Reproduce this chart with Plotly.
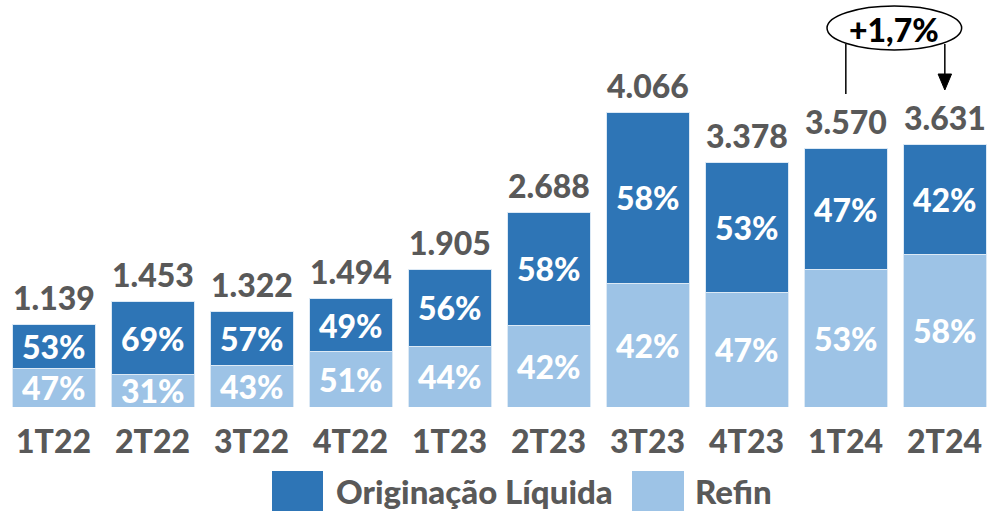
import plotly.graph_objects as go

categories = ["1T22", "2T22", "3T22", "4T22", "1T23", "2T23", "3T23", "4T23", "1T24", "2T24"]
totals = [1139, 1453, 1322, 1494, 1905, 2688, 4066, 3378, 3570, 3631]
total_labels = ["1.139", "1.453", "1.322", "1.494", "1.905", "2.688", "4.066", "3.378", "3.570", "3.631"]
pct_originacao = [53, 69, 57, 49, 56, 58, 58, 53, 47, 42]
pct_refin = [47, 31, 43, 51, 44, 42, 42, 47, 53, 58]
growth_label = "+1,7%"

DARK = "#2E75B6"
LIGHT = "#9DC3E6"
GRAY = "#595959"
FONT = "Lato"
WT = 900

W, H = 988, 511
ML, MR, MT, MB = 4, 0, 0, 104
PH = H - MT - MB
YMAX = 5620

refin_vals = [t * p / 100 for t, p in zip(totals, pct_refin)]
orig_vals = [t - r for t, r in zip(totals, refin_vals)]
xs = list(range(len(categories)))

fig = go.Figure()
fig.add_trace(go.Bar(x=xs, y=refin_vals, name="Refin", marker=dict(color=LIGHT, line=dict(color="#DCE9F5", width=1)),
                     width=0.84, hoverinfo="skip"))
fig.add_trace(go.Bar(x=xs, y=orig_vals, name="Originação Líquida", marker=dict(color=DARK, line=dict(color="#DCE9F5", width=1)),
                     width=0.84, hoverinfo="skip"))

def f(size, color):
    return dict(family=FONT, size=size, color=color, weight=WT)

ann = []
for i in xs:
    ann.append(dict(x=i, y=refin_vals[i] / 2, text=f"{pct_refin[i]}%", showarrow=False,
                    font=f(32, "white"), xref="x", yref="y", yanchor="middle"))
    ann.append(dict(x=i, y=refin_vals[i] + orig_vals[i] / 2, text=f"{pct_originacao[i]}%", showarrow=False,
                    font=f(32, "white"), xref="x", yref="y", yanchor="middle"))
    ann.append(dict(x=i, y=totals[i], text=total_labels[i], showarrow=False, yshift=27,
                    font=f(32, GRAY), xref="x", yref="y", yanchor="middle"))
    ann.append(dict(x=i, y=0, text=categories[i], showarrow=False, yshift=-33,
                    font=f(32, GRAY), xref="x", yref="y", yanchor="middle"))

def py(p):  # pixel y -> paper
    return (H - MB - p) / PH

def px(p):  # pixel x -> paper
    return (p - ML) / (W - ML - MR)

def dy(p):  # pixel y -> data y
    return (H - MB - p) / PH * YMAX

shapes = []
# growth ellipse and connectors
i1, i2 = 8, 9
shapes.append(dict(type="circle", xref="x", yref="y", x0=i1 - 0.19, x1=i2 + 0.17, y0=dy(50), y1=dy(6),
                   line=dict(color="black", width=1.5), fillcolor="white", layer="above"))
shapes.append(dict(type="line", xref="x", yref="y", x0=i1, x1=i1, y0=dy(44), y1=dy(94),
                   line=dict(color="black", width=1.5)))
shapes.append(dict(type="line", xref="x", yref="y", x0=i2, x1=i2, y0=dy(44), y1=dy(78),
                   line=dict(color="black", width=1.5)))
shapes.append(dict(type="path", xref="x", yref="y",
                   path=f"M {i2-0.068},{dy(74)} L {i2+0.068},{dy(74)} L {i2},{dy(90)} Z",
                   fillcolor="black", line=dict(color="black", width=1)))
ann.append(dict(x=(i1 + i2) / 2 - 0.01, y=dy(29), text=growth_label, showarrow=False,
                font=f(32, "black"), xref="x", yref="y", yanchor="middle"))

# legend
shapes.append(dict(type="rect", xref="paper", yref="paper", x0=px(272), x1=px(323), y0=py(511), y1=py(471),
                   fillcolor=DARK, line=dict(width=0)))
shapes.append(dict(type="rect", xref="paper", yref="paper", x0=px(632), x1=px(684), y0=py(511), y1=py(471),
                   fillcolor=LIGHT, line=dict(width=0)))
ann.append(dict(x=px(334), y=py(491), text="Originação Líquida", showarrow=False, xanchor="left", yanchor="middle",
                font=f(33, GRAY), xref="paper", yref="paper"))
ann.append(dict(x=px(693), y=py(491), text="Refin", showarrow=False, xanchor="left", yanchor="middle",
                font=f(33, GRAY), xref="paper", yref="paper"))

fig.update_layout(
    width=W, height=H, barmode="stack", showlegend=False,
    margin=dict(l=ML, r=MR, t=MT, b=MB),
    paper_bgcolor="white", plot_bgcolor="white",
    xaxis=dict(range=[-0.503, 9.436], showticklabels=False, showgrid=False, zeroline=False, showline=False, fixedrange=True),
    yaxis=dict(range=[0, YMAX], visible=False, showgrid=False, fixedrange=True),
    annotations=ann, shapes=shapes,
)
fig.write_html("out.html", config={"displayModeBar": False},
               post_script="document.body.style.margin='0px';document.body.style.overflow='hidden';")
